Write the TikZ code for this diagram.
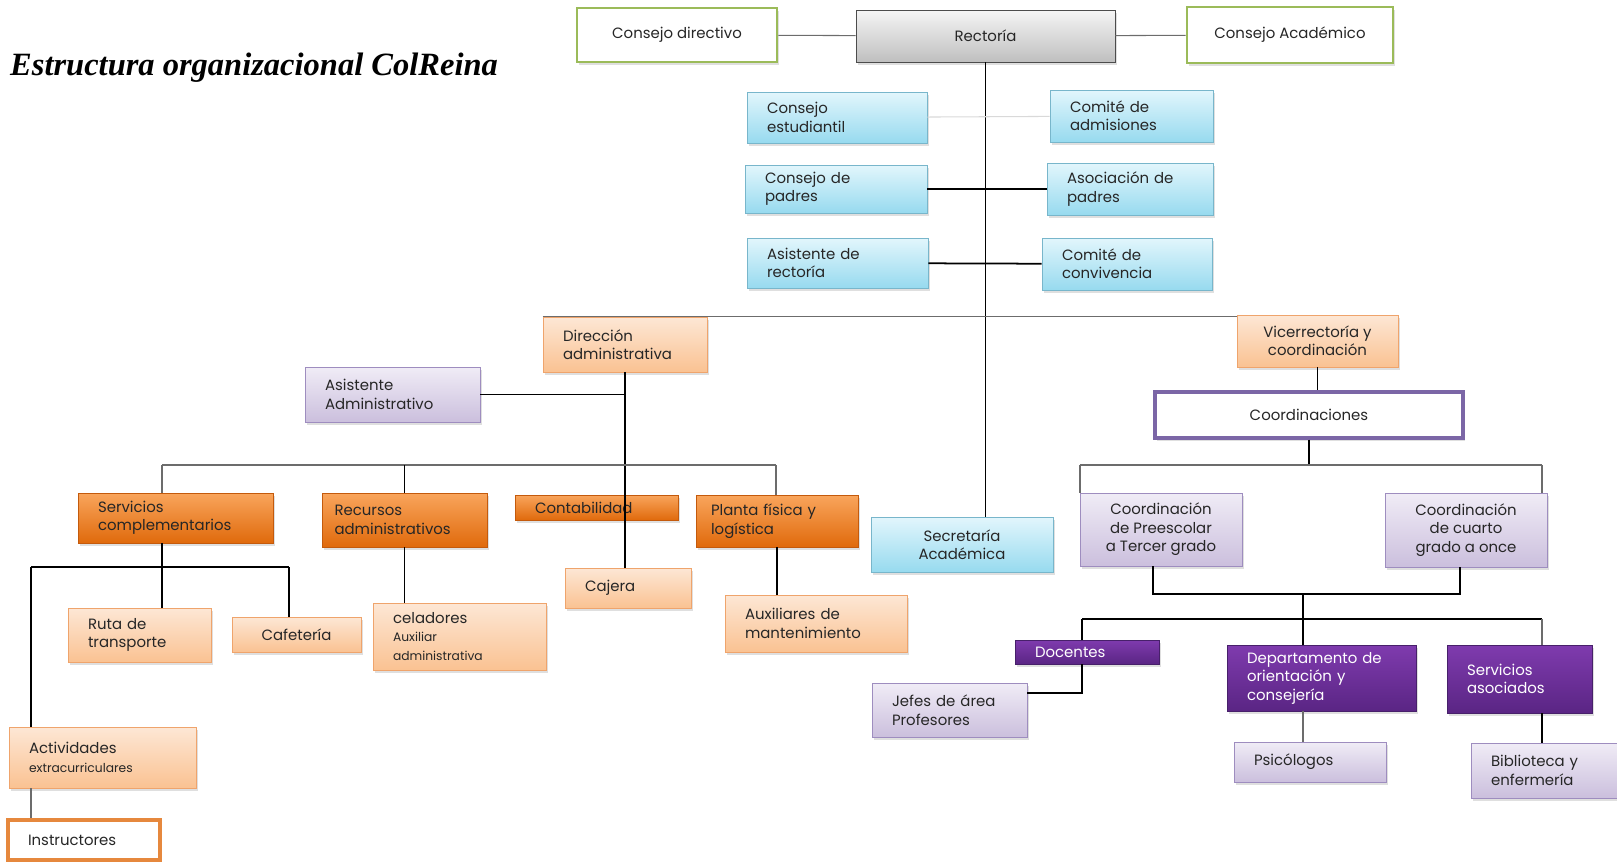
\documentclass[tikz,border=0pt]{standalone}
\usepackage{fontspec}
\setmainfont{Liberation Serif}
\newfontfamily\boxfont{Poppins}
\usepackage{xcolor}
\usetikzlibrary{shadows}

\definecolor{olivegreen}{HTML}{9BBB59}
\definecolor{textgray}{HTML}{262626}
\definecolor{skytop}{HTML}{E2F6FC}
\definecolor{skybot}{HTML}{97DAEF}
\definecolor{skyline}{HTML}{78B6CB}
\definecolor{peachtop}{HTML}{FDE7D5}
\definecolor{peachbot}{HTML}{FAC292}
\definecolor{peachline}{HTML}{EFA46C}
\definecolor{orangetop}{HTML}{F9A55C}
\definecolor{orangebot}{HTML}{E06A0C}
\definecolor{orangeline}{HTML}{C45A0C}
\definecolor{lilactop}{HTML}{F0ECF6}
\definecolor{lilacbot}{HTML}{CBBFDD}
\definecolor{lilacline}{HTML}{9E8DBF}
\definecolor{plumtop}{HTML}{7F3BAE}
\definecolor{plumbot}{HTML}{5A2584}
\definecolor{plumline}{HTML}{47206A}
\definecolor{coordline}{HTML}{7B66A6}

\tikzset{
  box/.style={rectangle, font=\boxfont\fontsize{8.5pt}{10.5pt}\selectfont, text=textgray,
    inner ysep=2pt, inner xsep=0.4cm,
    drop shadow={opacity=0.25, shadow xshift=1.2pt, shadow yshift=-1.5pt}},
  greenbox/.style={box, draw=olivegreen, line width=1.6pt, fill=white, align=center},
  graybox/.style={box, draw=gray!60!black, top color=gray!8, bottom color=gray!50, align=center},
  bluebox/.style={box, draw=skyline, top color=skytop, bottom color=skybot, align=left},
  peachbox/.style={box, draw=peachline, top color=peachtop, bottom color=peachbot, align=left},
  orangebox/.style={box, draw=orangeline, top color=orangetop, bottom color=orangebot, align=left},
  lilacbox/.style={box, draw=lilacline, top color=lilactop, bottom color=lilacbot, align=left},
  plumbox/.style={box, draw=plumline, top color=plumtop, bottom color=plumbot, text=white, align=left},
  line/.style={draw=black, line width=1pt},
  thinline/.style={draw=gray!85!black, line width=0.6pt}
}

\begin{document}
\begin{tikzpicture}[x=0.02cm, y=-0.02cm]
\useasboundingbox (0,0) rectangle (1617,862);

\node[anchor=west, font=\fontsize{18.5pt}{21pt}\selectfont\bfseries\itshape] (title) at (4,68) {Estructura organizacional ColReina};

% top row
\node[greenbox, minimum width=4cm, minimum height=1.08cm] (cdir) at (677,35) {Consejo directivo};
\node[graybox, minimum width=5.18cm, minimum height=1.04cm] (rect) at (985.5,36) {Rectoría};
\node[greenbox, minimum width=4.12cm, minimum height=1.12cm] (cacad) at (1290,35) {Consejo Académico};

% consejos
\node[bluebox, text width=2.8cm, minimum height=1.02cm] (cest) at (837,117.5) {Consejo\\estudiantil};
\node[bluebox, text width=2.46cm, minimum height=1.04cm] (cadm) at (1131.5,116) {Comité de\\admisiones};
\node[bluebox, text width=2.84cm, minimum height=0.96cm] (cpad) at (836,189) {Consejo de\\padres};
\node[bluebox, text width=2.52cm, minimum height=1.04cm] (apad) at (1130,189) {Asociación de\\padres};
\node[bluebox, text width=2.82cm, minimum height=1cm] (arec) at (837.5,263) {Asistente de\\rectoría};
\node[bluebox, text width=2.6cm, minimum height=1.04cm] (cconv) at (1127,264) {Comité de\\convivencia};

% direccion y vicerrectoria
\node[peachbox, text width=2.48cm, minimum height=1.1cm] (diradm) at (625,344.5) {Dirección\\administrativa};
\node[peachbox, align=center, minimum width=3.22cm, minimum height=1.04cm] (vice) at (1317.5,341) {Vicerrectoría y\\coordinación};
\node[lilacbox, text width=2.7cm, minimum height=1.1cm] (asadm) at (392.5,394.5) {Asistente\\Administrativo};
\node[box, draw=coordline, line width=1.8pt, fill=white, minimum width=6.16cm, minimum height=0.92cm] (coords) at (1309,415) {Coordinaciones};

% areas administrativas
\node[orangebox, text width=3.1cm, minimum height=1cm] (servc) at (175.5,518) {Servicios\\complementarios};
\node[orangebox, inner xsep=0.25cm, text width=2.8cm, minimum height=1.08cm] (recadm) at (404.5,520) {Recursos\\administrativos};
\node[orangebox, text width=2.46cm, minimum height=0.5cm] (conta) at (596.5,507.5) {Contabilidad};
\node[orangebox, inner xsep=0.3cm, text width=2.64cm, minimum height=1.04cm] (planta) at (777,521) {Planta física y\\logística};
\node[bluebox, align=center, minimum width=3.64cm, minimum height=1.1cm] (secac) at (962,544.5) {Secretaría\\Académica};
\node[lilacbox, align=center, minimum width=3.24cm, minimum height=1.46cm] (cprees) at (1161,529.5) {Coordinación\\de Preescolar\\a Tercer grado};
\node[lilacbox, align=center, minimum width=3.24cm, minimum height=1.48cm] (ccuarto) at (1466,530) {Coordinación\\de cuarto\\grado a once};

% dependencias
\node[peachbox, text width=2.06cm, minimum height=1.08cm] (ruta) at (139.5,635) {Ruta de\\transporte};
\node[peachbox, align=center, minimum width=2.58cm, minimum height=0.7cm] (cafe) at (296.5,634.5) {Cafetería};
\node[peachbox, text width=2.66cm, minimum height=1.34cm] (cela) at (459.5,636.5) {celadores\\{\fontsize{7pt}{9pt}\selectfont Auxiliar}\\{\fontsize{7pt}{9pt}\selectfont administrativa}};
\node[peachbox, text width=1.72cm, minimum height=0.8cm] (caja) at (628,588) {Cajera};
\node[peachbox, text width=2.84cm, minimum height=1.14cm] (auxm) at (816,623.5) {Auxiliares de\\mantenimiento};
\node[peachbox, text width=2.94cm, minimum height=1.22cm] (activ) at (102.5,757.5) {Actividades\\{\fontsize{7pt}{9pt}\selectfont extracurriculares}};
\node[box, draw=orangebot!80, line width=1.8pt, fill=white, text width=2.24cm, minimum height=0.8cm, align=left] (instr) at (84,840) {Instructores};

% docentes y servicios
\node[plumbox, text width=2.08cm, minimum height=0.48cm] (doc) at (1087,652) {Docentes};
\node[lilacbox, text width=2.3cm, minimum height=1.08cm] (jefes) at (949.5,710) {Jefes de área\\Profesores};
\node[plumbox, text width=2.98cm, minimum height=1.32cm] (dep) at (1321.5,678) {Departamento de\\orientación y\\consejería};
\node[plumbox, text width=2.1cm, minimum height=1.36cm] (sas) at (1519.5,679) {Servicios\\asociados};
\node[lilacbox, text width=2.24cm, minimum height=0.8cm] (psi) at (1310,762) {Psicólogos};
\node[lilacbox, text width=2.12cm, minimum height=1.1cm] (bib) at (1544,770.5) {Biblioteca y\\enfermería};

% branch points
\coordinate (br1) at (162,465);
\coordinate (br2) at (776,465);
\coordinate (svL) at (31,567);
\coordinate (svR) at (289,567);
\coordinate (sv) at (162,567);
\coordinate (cbL) at (1080,465);
\coordinate (cbR) at (1542,465);
\coordinate (jL) at (1153,594);
\coordinate (jR) at (1460,594);
\coordinate (dL) at (1082,619);
\coordinate (dC) at (1303,619);
\coordinate (dR) at (1542,619);
\coordinate (jk) at (1082,693);

% rectoria
\path[thinline] (cdir) -- (rect);
\path[thinline] (rect) -- (cacad);
\path[line] (rect.south) -- (rect.south |- secac.north);
\path[draw=gray!30, line width=0.6pt] (cest) -- (cadm);
\path[line] (cpad) -- (apad);
\path[line] (arec) -- (cconv);
\path[thinline] (diradm.north west) -- (diradm.north west -| vice.west);

% administrativa
\path[line] (diradm.south) -- (diradm.south |- caja.north);
\path[line] (asadm.east) -- (asadm.east -| diradm.south);
\path[thinline] (br1) -- (br2);
\path[thinline] (br1) -- (br1 |- servc.north);
\path[line] (recadm.north) -- (recadm.north |- br1);
\path[thinline] (br2) -- (br2 |- planta.north);
\path[line] (sv |- servc.south) -- (sv |- ruta.north);
\path[line] (svL) -- (svR);
\path[line] (svR) -- (svR |- cafe.north);
\path[line] (svL) -- (svL |- activ.north);
\path[line] (recadm.south) -- (recadm.south |- cela.north);
\path[line] (planta.south) -- (planta.south |- auxm.north);
\path[thinline] (svL |- activ.south) -- (svL |- instr.north);

% academica
\path[line] (vice.south) -- (vice.south |- coords.north);
\path[line] (coords.south) -- (coords.south |- cbL);
\path[thinline] (cbL) -- (cbR);
\path[thinline] (cbL) -- (cbL |- cprees.north);
\path[thinline] (cbR) -- (cbR |- ccuarto.north);
\path[line] (jL |- cprees.south) -- (jL) -- (jR) -- (jR |- ccuarto.south);
\path[line] (dC |- jL) -- (dC);
\path[line] (dL) -- (dR);
\path[line] (dC) -- (dC |- dep.north);
\path[line] (dL) -- (dL |- doc.north);
\path[thinline] (dR) -- (dR |- sas.north);
\path[line] (dL |- doc.south) -- (jk) -- (jk -| jefes.east);
\path[thinline] (dC |- dep.south) -- (dC |- psi.north);
\path[line] (dR |- sas.south) -- (dR |- bib.north);
\end{tikzpicture}
\end{document}
